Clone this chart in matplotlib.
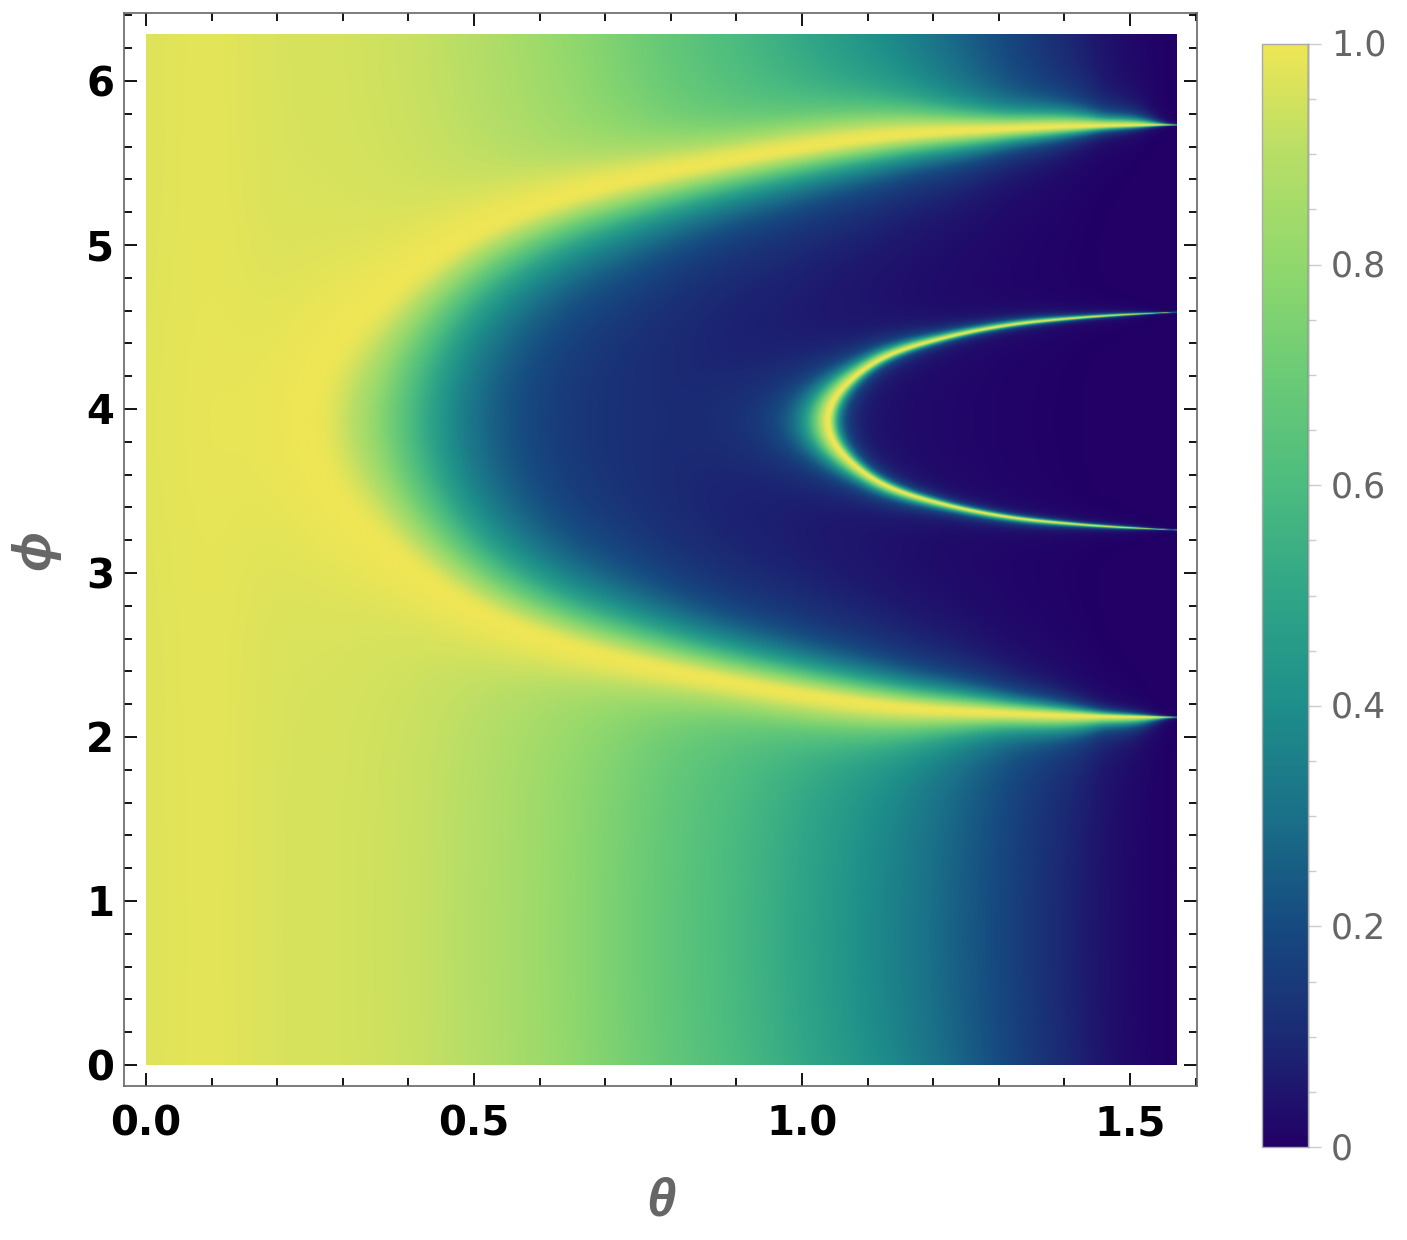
import numpy as np
import matplotlib
matplotlib.use("Agg")
import matplotlib.pyplot as plt
from matplotlib.colors import LinearSegmentedColormap
from matplotlib.ticker import MultipleLocator, FixedLocator
from matplotlib.transforms import ScaledTranslation

# ---- values ----
center_phi = 3.925
outer_theta = [0.0, 0.10, 0.25, 0.30, 0.35, 0.433, 0.509, 0.636, 0.738, 0.864, 0.962, 1.15, 1.30, 1.454, 1.57]
outer_r2 = [-1.6, -0.95, 0.0, 0.27, 0.52, 0.98, 1.37, 1.86, 2.16, 2.47, 2.70, 3.045, 3.17, 3.24, 3.26]
inner_theta = [0.0, 0.9, 1.04, 1.068, 1.119, 1.22, 1.32, 1.424, 1.526, 1.57]
inner_r2 = [-1.8, -0.25, 0.0, 0.05, 0.14, 0.26, 0.345, 0.397, 0.43, 0.44]
in_w_theta = [0.0, 0.25, 0.40, 0.50, 0.63, 0.74, 0.86, 1.0, 1.15, 1.3, 1.45, 1.55, 1.57]
outer_w_in = [1.05, 1.05, 1.0, 0.88, 0.76, 0.70, 0.62, 0.56, 0.45, 0.28, 0.09, 0.012, 0.004]
out_w_theta = [0.0, 0.5, 0.86, 1.15, 1.3, 1.45, 1.55, 1.57]
outer_w_out = [0.8, 0.8, 0.6, 0.55, 0.32, 0.18, 0.03, 0.008]
inner_w_theta = [0.0, 1.04, 1.22, 1.42, 1.52, 1.57]
inner_w_in = [0.024, 0.024, 0.016, 0.009, 0.004, 0.0012]
inner_w_out = [0.07, 0.05, 0.026, 0.013, 0.005, 0.0015]
base_theta = [0.0, 0.1, 0.2, 0.3, 0.4, 0.5, 0.6, 0.7, 0.8, 0.9, 1.0, 1.1, 1.2, 1.3, 1.4, 1.5, 1.57]
base_val = [0.97, 0.98, 0.96, 0.95, 0.93, 0.89, 0.83, 0.75, 0.66, 0.58, 0.49, 0.39, 0.29, 0.19, 0.09, 0.02, 0.0]
cmap_colors = ["#220066", "#1b2a74", "#164a80", "#1a7088", "#1e8e8a", "#30a587",
               "#4cbc7f", "#6bcb76", "#90d86d", "#b7de67", "#eee655"]
x_major = [0.0, 0.5, 1.0, 1.5]
y_major = [0, 1, 2, 3, 4, 5, 6]
cbar_ticks = [0, 0.2, 0.4, 0.6, 0.8, 1.0]
cbar_labels = ["0", "0.2", "0.4", "0.6", "0.8", "1.0"]


def spline(xk, yk, x):
    """Cubic curve through the read control points."""
    xk = np.asarray(xk, float)
    yk = np.asarray(yk, float)
    m = np.gradient(yk, xk)
    i = np.clip(np.searchsorted(xk, x) - 1, 0, len(xk) - 2)
    h = xk[i + 1] - xk[i]
    t = (x - xk[i]) / h
    return ((2*t**3 - 3*t**2 + 1)*yk[i] + (t**3 - 2*t**2 + t)*h*m[i]
            + (-2*t**3 + 3*t**2)*yk[i + 1] + (t**3 - t**2)*h*m[i + 1])


def logspline(xk, yk, x):
    return np.exp(spline(xk, np.log(yk), x))


W, H = 1407, 1240
fig = plt.figure(figsize=(W/100, H/100), dpi=100)


def rect(x0, y0, x1, y1):
    return [x0/W, 1 - y1/H, (x1 - x0)/W, (y1 - y0)/H]


theta = np.linspace(0, np.pi/2, 1500)
phi = np.linspace(0, 2*np.pi, 1500)
T, P = np.meshgrid(theta, phi)
D = np.abs((P - center_phi + np.pi) % (2*np.pi) - np.pi)
t = theta


def lor(g, w):
    return 1/(1 + (g/w)**2)


G1 = spline(outer_theta, outer_r2, t)[None, :] - D**2
w1i = logspline(in_w_theta, outer_w_in, t)[None, :]
w1o = logspline(out_w_theta, outer_w_out, t)[None, :]
b = np.clip(spline(base_theta, base_val, t), 0, 1)[None, :]
F1 = np.where(G1 > 0, lor(G1, w1i), b + (1 - b)*lor(G1, w1o))
G2 = spline(inner_theta, inner_r2, t)[None, :] - D**2
w2i = logspline(inner_w_theta, inner_w_in, t)[None, :]
w2o = logspline(inner_w_theta, inner_w_out, t)[None, :]
F2 = lor(G2, np.where(G2 > 0, w2i, w2o))
Z = 1 - (1 - F1)*(1 - F2)

cmap = LinearSegmentedColormap.from_list("vir", cmap_colors, N=512)

ax = fig.add_axes(rect(124, 13, 1197, 1086))
im = ax.imshow(Z, origin="lower", extent=[0, np.pi/2, 0, 2*np.pi], aspect="auto",
               cmap=cmap, vmin=0, vmax=1, interpolation="bilinear")
ax.set_xlim((124 - 146)/656, (1197 - 146)/656)
ax.set_ylim((1065 - 1086)/164, (1065 - 13)/164)
ax.xaxis.set_major_locator(FixedLocator(x_major))
ax.xaxis.set_minor_locator(MultipleLocator(0.1))
ax.yaxis.set_major_locator(FixedLocator(y_major))
ax.yaxis.set_minor_locator(MultipleLocator(0.2))
ax.set_xticklabels(["%.1f" % v for v in x_major])
ax.tick_params(which="both", direction="in", top=True, right=True, color="black", width=1.3)
ax.tick_params(which="major", length=9.5, labelsize=29)
ax.tick_params(axis="x", which="major", pad=13)
ax.tick_params(axis="y", which="major", pad=7)
ax.tick_params(which="minor", length=5.5)
for lab in ax.get_xticklabels() + ax.get_yticklabels():
    lab.set_fontweight("bold")
    lab.set_color("black")
for s in ax.spines.values():
    s.set_color("#666666")
    s.set_linewidth(1.2)
ax.set_xlabel("θ", fontsize=38, fontweight="bold", style="italic", family="Liberation Sans",
              color="#666666", labelpad=23)
ax.set_ylabel("ϕ", fontsize=38, fontweight="bold", style="italic", family="Liberation Sans",
              color="#666666", labelpad=19)

cax = fig.add_axes(rect(1262, 44, 1308, 1147))
cb = fig.colorbar(im, cax=cax)
cb.set_ticks(cbar_ticks)
cb.set_ticklabels(cbar_labels)
cax.yaxis.set_minor_locator(MultipleLocator(0.05))
cax.tick_params(which="major", length=9.5, width=1, color="#cccccc", labelcolor="#666666", labelsize=25, pad=7)
cax.tick_params(which="minor", length=5.5, width=1, color="#cccccc")
for lab in cax.get_yticklabels():
    lab.set_va("center")
    lab.set_transform(lab.get_transform() + ScaledTranslation(0, -0.02, fig.dpi_scale_trans))
cb.outline.set_edgecolor("#aaaaaa")
cb.outline.set_linewidth(1.0)
cax.axvline(1, color="black", alpha=0.55, lw=1.0, clip_on=False)

fig.savefig("out.png", dpi=100)
